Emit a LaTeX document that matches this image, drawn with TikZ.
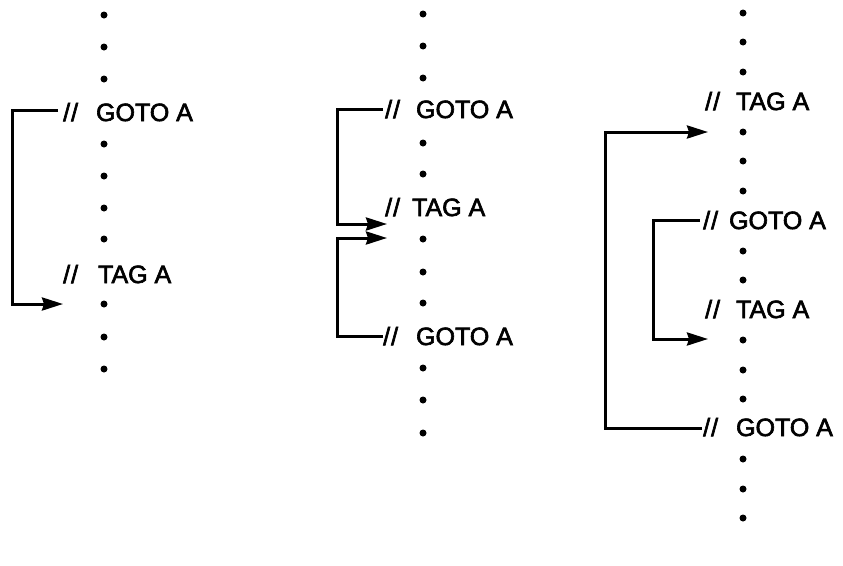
\documentclass[tikz,border=0pt]{standalone}
\usepackage{fontspec}
\setmainfont{Liberation Sans}[FakeBold=2.5]
\usetikzlibrary{arrows.meta}
\tikzset{
  lbl/.style={anchor=base west, inner sep=0pt, font=\fontsize{25}{29}\selectfont},
  link/.style={line width=3pt, line join=miter},
  linkarrow/.style={link, -{Stealth[length=21pt,width=13pt,inset=2pt]}},
  dotmark/.style={circle, fill=black, inner sep=0pt, minimum size=7pt}
}
\newcommand{\slashlbl}[2]{/\hspace{1pt}/\hspace{#1pt}#2}
\begin{document}
\begin{tikzpicture}[x=1pt,y=-1pt]
\useasboundingbox (0,0) rectangle (843,565);
% column 1 dots
\foreach \yy [count=\i] in {15,47,79,144,176,208,239,304,337,369}
  \node[dotmark] (da\i) at (104,\yy) {};
% column 2 dots
\foreach \yy [count=\i] in {14,46,78,143,174,239,272,303,368,400,433}
  \node[dotmark] (db\i) at (423,\yy) {};
% column 3 dots
\foreach \yy [count=\i] in {13,42,72,132,161,191,251,280,340,370,399,459,489,518}
  \node[dotmark] (dc\i) at (743,\yy) {};

% labels column 1
\node[lbl] (g1) at (63,121) {\slashlbl{18}{GOTO A}};
\node[lbl] (t1) at (63,283) {\slashlbl{20}{TAG A}};
% labels column 2
\node[lbl] (g2) at (385,118) {\slashlbl{16}{GOTO A}};
\node[lbl] (t2) at (385,216) {\slashlbl{12}{TAG A}};
\node[lbl] (g3) at (383,345) {\slashlbl{18}{GOTO A}};
% labels column 3
\node[lbl] (t3) at (705,110) {\slashlbl{16}{TAG A}};
\node[lbl] (g4) at (703,229) {\slashlbl{11}{GOTO A}};
\node[lbl] (t4) at (705,318) {\slashlbl{16}{TAG A}};
\node[lbl] (g5) at (703,436) {\slashlbl{18}{GOTO A}};

% connector end points
\coordinate (s1) at (58,110);
\coordinate (e1) at (63,304);
\coordinate (s2) at (383,109);
\coordinate (e2) at (387,224);
\coordinate (s3) at (383,336);
\coordinate (e3) at (387,238);
\coordinate (s4) at (700,220);
\coordinate (e4) at (708,339);
\coordinate (s5) at (702,428);
\coordinate (e5) at (708,132);

\draw[linkarrow] (s1) -- (12,110) |- (e1);
\draw[linkarrow] (s2) -- (337,109) |- (e2);
\draw[linkarrow] (s3) -- (337,336) |- (e3);
\draw[linkarrow] (s4) -- (653,220) |- (e4);
\draw[linkarrow] (s5) -- (605,428) |- (e5);
\end{tikzpicture}
\end{document}
